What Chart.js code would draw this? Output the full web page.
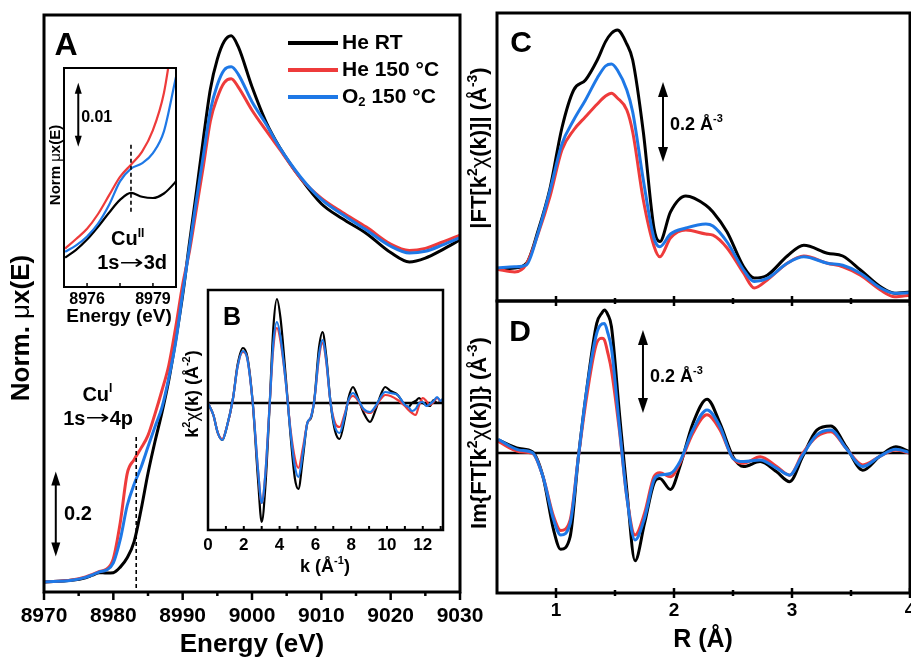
<!DOCTYPE html>
<html>
<head>
<meta charset="utf-8">
<script src="https://cdn.jsdelivr.net/npm/chart.js@4.4.1/dist/chart.umd.min.js"></script>
<style>
  body { margin: 0; width: 911px; height: 659px; overflow: hidden; background: #fff; position: relative; }
  .box { position: absolute; left: 0; top: 0; width: 930px; height: 659px; }
</style>
</head>
<body>
<div class="box"><canvas id="cA"></canvas></div>
<div class="box"><canvas id="cInset"></canvas></div>
<div class="box"><canvas id="cB"></canvas></div>
<div class="box"><canvas id="cC"></canvas></div>
<div class="box"><canvas id="cD"></canvas></div>
<script>
// series names and colours
const seriesNames = ['He RT', 'He 150 °C', 'O₂ 150 °C'];
const seriesColors = ['#000000', '#EE3B3B', '#1E78E6'];

// A: normalized XANES
const energyA = [8970, 8974, 8976, 8977, 8978, 8979, 8980, 8981, 8982, 8983, 8984, 8985, 8986, 8987, 8988, 8989, 8990, 8991, 8992, 8993, 8994, 8995, 8996, 8997, 8998, 9000, 9002, 9004, 9007, 9010, 9013, 9016.5, 9020, 9022.7, 9025, 9027.5, 9030];
const heRtA  = [0.000, 0.004, 0.010, 0.016, 0.022, 0.021, 0.022, 0.035, 0.057, 0.095, 0.170, 0.256, 0.330, 0.398, 0.475, 0.570, 0.675, 0.800, 0.920, 1.045, 1.160, 1.230, 1.272, 1.285, 1.260, 1.165, 1.083, 1.022, 0.950, 0.890, 0.855, 0.820, 0.775, 0.753, 0.762, 0.782, 0.805];
const he150A = [0.000, 0.005, 0.012, 0.018, 0.025, 0.030, 0.055, 0.140, 0.255, 0.288, 0.315, 0.345, 0.395, 0.450, 0.510, 0.600, 0.700, 0.780, 0.880, 0.980, 1.085, 1.140, 1.175, 1.184, 1.165, 1.110, 1.063, 1.018, 0.950, 0.903, 0.870, 0.835, 0.795, 0.780, 0.785, 0.800, 0.816];
const o2150A = [0.000, 0.004, 0.011, 0.017, 0.024, 0.028, 0.045, 0.100, 0.180, 0.230, 0.270, 0.318, 0.365, 0.410, 0.480, 0.565, 0.680, 0.790, 0.900, 1.005, 1.110, 1.170, 1.205, 1.212, 1.195, 1.130, 1.078, 1.022, 0.953, 0.900, 0.865, 0.828, 0.790, 0.774, 0.778, 0.793, 0.810];
const ticksA = [8970, 8980, 8990, 9000, 9010, 9020, 9030];
const minorA = [8975, 8985, 8995, 9005, 9015, 9025];

// A inset: pre-edge
const energyInset = [8975, 8975.5, 8976, 8976.5, 8977, 8977.5, 8978, 8978.5, 8979, 8979.5, 8980, 8980.5];
const heRtInset  = [0.0046, 0.0058, 0.0074, 0.0094, 0.0116, 0.0136, 0.0147, 0.0141, 0.0139, 0.0146, 0.0163, 0.0185];
const he150Inset = [0.0060, 0.0075, 0.0091, 0.0114, 0.0143, 0.0172, 0.0191, 0.0211, 0.0245, 0.0303, 0.0410, 0.0500];
const o2150Inset = [0.0055, 0.0065, 0.0079, 0.0099, 0.0128, 0.0165, 0.0185, 0.0193, 0.0209, 0.0243, 0.0320, 0.0400];
const ticksInset = [8976, 8979];
const minorInset = [8977.5];

// B: k-space EXAFS
const kB = [0, 0.3, 0.55, 0.8, 1.05, 1.4, 1.65, 1.95, 2.2, 2.5, 2.8, 3.0, 3.2, 3.45, 3.65, 3.85, 4.05, 4.35, 4.6, 4.85, 5.05, 5.3, 5.55, 5.75, 5.95, 6.2, 6.4, 6.6, 6.85, 7.1, 7.35, 7.65, 7.85, 8.1, 8.4, 8.7, 9.05, 9.4, 9.65, 9.9, 10.2, 10.6, 11.0, 11.2, 11.4, 11.6, 11.8, 12.0, 12.2, 12.4, 12.6, 12.8, 13.0, 13.1];
const heRtB  = [0, -0.12, -0.30, -0.37, -0.24, 0.05, 0.38, 0.55, 0.46, 0.00, -0.78, -1.19, -0.85, 0.00, 0.75, 1.04, 0.85, 0.25, -0.30, -0.75, -0.86, -0.55, -0.20, -0.15, 0.05, 0.55, 0.71, 0.48, 0.00, -0.28, -0.36, -0.15, 0.05, 0.16, 0.04, -0.10, -0.19, -0.05, 0.08, 0.16, 0.12, 0.08, -0.02, -0.04, 0.00, 0.02, 0.05, 0.00, -0.02, -0.03, 0.03, 0.00, 0.01, 0.03];
const he150B = [0, -0.12, -0.30, -0.36, -0.24, 0.05, 0.36, 0.51, 0.44, 0.00, -0.68, -1.00, -0.72, 0.00, 0.55, 0.75, 0.62, 0.20, -0.25, -0.55, -0.65, -0.45, -0.20, -0.14, 0.04, 0.45, 0.60, 0.42, 0.00, -0.20, -0.24, -0.10, 0.02, 0.07, 0.02, -0.07, -0.10, -0.03, 0.04, 0.08, 0.07, 0.03, -0.03, -0.07, -0.10, -0.12, -0.02, 0.05, 0.02, -0.02, 0.01, 0.05, 0.02, 0.03];
const o2150B = [0, -0.12, -0.30, -0.37, -0.24, 0.05, 0.36, 0.52, 0.44, 0.00, -0.68, -1.00, -0.72, 0.00, 0.60, 0.81, 0.66, 0.20, -0.27, -0.63, -0.74, -0.50, -0.20, -0.14, 0.04, 0.48, 0.63, 0.44, 0.00, -0.24, -0.30, -0.12, 0.03, 0.10, 0.03, -0.06, -0.09, -0.02, 0.06, 0.11, 0.10, 0.08, -0.02, -0.04, -0.08, -0.06, 0.00, 0.01, -0.03, -0.01, 0.02, 0.06, 0.02, 0.04];
const ticksB = [0, 2, 4, 6, 8, 10, 12];
const minorB = [1, 3, 5, 7, 9, 11, 13];

// C: |FT| magnitude
const rC = [0.5, 0.65, 0.75, 0.85, 0.95, 1.05, 1.15, 1.25, 1.35, 1.42, 1.47, 1.52, 1.6, 1.65, 1.74, 1.83, 1.88, 1.97, 2.1, 2.27, 2.33, 2.45, 2.59, 2.68, 2.79, 2.96, 3.1, 3.3, 3.43, 3.58, 3.75, 3.87, 4.0];
const heRtC  = [0.077, 0.080, 0.092, 0.175, 0.280, 0.430, 0.525, 0.550, 0.600, 0.646, 0.667, 0.675, 0.640, 0.600, 0.420, 0.180, 0.146, 0.220, 0.260, 0.237, 0.220, 0.170, 0.083, 0.055, 0.062, 0.110, 0.137, 0.117, 0.110, 0.075, 0.033, 0.017, 0.020];
const he150C = [0.077, 0.070, 0.090, 0.167, 0.260, 0.375, 0.425, 0.458, 0.490, 0.510, 0.517, 0.505, 0.475, 0.420, 0.250, 0.135, 0.108, 0.155, 0.175, 0.165, 0.162, 0.130, 0.067, 0.030, 0.050, 0.092, 0.110, 0.092, 0.083, 0.062, 0.025, 0.008, 0.012];
const o2150C = [0.080, 0.083, 0.088, 0.170, 0.275, 0.390, 0.450, 0.500, 0.555, 0.585, 0.590, 0.575, 0.525, 0.470, 0.300, 0.155, 0.133, 0.165, 0.180, 0.190, 0.185, 0.145, 0.075, 0.046, 0.054, 0.092, 0.108, 0.092, 0.087, 0.067, 0.030, 0.017, 0.018];

// D: Im(FT)
const rD = [0.51, 0.69, 0.8, 0.89, 0.98, 1.04, 1.12, 1.19, 1.26, 1.345, 1.39, 1.41, 1.44, 1.47, 1.54, 1.6, 1.67, 1.75, 1.83, 1.88, 1.97, 2.05, 2.16, 2.28, 2.39, 2.5, 2.59, 2.73, 2.87, 2.98, 3.09, 3.21, 3.33, 3.46, 3.6, 3.74, 3.88, 4.0];
const heRtD  = [0.032, 0.011, 0.003, -0.058, -0.188, -0.235, -0.204, -0.009, 0.154, 0.316, 0.342, 0.349, 0.337, 0.308, 0.089, -0.090, -0.263, -0.172, -0.074, -0.062, -0.089, -0.033, 0.072, 0.131, 0.072, -0.009, -0.033, -0.021, -0.046, -0.070, -0.009, 0.056, 0.066, 0.015, -0.042, -0.009, 0.015, 0.003];
const he150D = [0.028, 0.003, -0.001, -0.058, -0.155, -0.189, -0.163, -0.009, 0.137, 0.268, 0.280, 0.276, 0.243, 0.202, 0.048, -0.107, -0.200, -0.147, -0.058, -0.048, -0.058, -0.025, 0.048, 0.093, 0.056, -0.013, -0.025, -0.009, -0.033, -0.054, -0.001, 0.040, 0.052, 0.011, -0.029, -0.009, 0.007, -0.001];
const o2150D = [0.033, 0.007, 0.001, -0.058, -0.163, -0.200, -0.172, -0.009, 0.154, 0.292, 0.315, 0.316, 0.292, 0.255, 0.056, -0.107, -0.212, -0.159, -0.066, -0.054, -0.050, -0.021, 0.056, 0.105, 0.064, -0.013, -0.021, -0.017, -0.037, -0.054, -0.005, 0.044, 0.056, 0.011, -0.033, -0.009, 0.009, 0.001];
const ticksR = [1, 2, 3, 4];
const minorR = [1.5, 2.5, 3.5];

const FONT = '"Liberation Sans", Arial, "DejaVu Sans", sans-serif';
const W = 930, H = 659;

// text with super/subscripts: part = [text, shift (1 sup, -1 sub), weight, family, xscale]
function rich(ctx, x, y, parts, size, opt = {}) {
  ctx.save();
  ctx.translate(x, y);
  if (opt.rot) ctx.rotate(opt.rot);
  const small = Math.round(size * 0.62);
  const fontOf = p => `${p[2] || 'bold'} ${p[1] ? small : size}px ${p[3] || FONT}`;
  let w = 0;
  const ws = parts.map(p => { ctx.font = fontOf(p); const m = ctx.measureText(p[0]).width * (p[4] || 1); w += m; return m; });
  let cx = opt.align === 'left' ? 0 : -w / 2;
  ctx.fillStyle = '#000';
  ctx.textBaseline = 'middle';
  ctx.textAlign = 'left';
  parts.forEach((p, i) => {
    ctx.font = fontOf(p);
    const dy = p[1] === 1 ? -size * 0.32 : p[1] === -1 ? size * 0.28 : 0;
    ctx.save();
    ctx.translate(cx, dy);
    ctx.scale(p[4] || 1, 1);
    ctx.fillText(p[0], 0, 0);
    ctx.restore();
    cx += ws[i];
  });
  ctx.restore();
}

const ARROW = ['→', 0, 'normal', '"DejaVu Sans"', 1.45];

function vArrow(ctx, x, y1, y2, h, hw) {
  ctx.save();
  ctx.strokeStyle = '#000'; ctx.fillStyle = '#000'; ctx.lineWidth = 2;
  ctx.beginPath(); ctx.moveTo(x, y1 + h - 2); ctx.lineTo(x, y2 - h + 2); ctx.stroke();
  ctx.beginPath(); ctx.moveTo(x, y1); ctx.lineTo(x - hw, y1 + h); ctx.lineTo(x + hw, y1 + h); ctx.closePath(); ctx.fill();
  ctx.beginPath(); ctx.moveTo(x, y2); ctx.lineTo(x - hw, y2 - h); ctx.lineTo(x + hw, y2 - h); ctx.closePath(); ctx.fill();
  ctx.restore();
}

function dashed(ctx, x, y1, y2) {
  ctx.save();
  ctx.setLineDash([4, 3]); ctx.lineWidth = 1.6; ctx.strokeStyle = '#000';
  ctx.beginPath(); ctx.moveTo(x, y1); ctx.lineTo(x, y2); ctx.stroke();
  ctx.restore();
}

// annotations per panel
const extras = {
  cA(chart) {
    const { ctx, chartArea: a, scales: { x, y } } = chart;
    dashed(ctx, x.getPixelForValue(8983.3), y.getPixelForValue(0.341), a.bottom);
    vArrow(ctx, x.getPixelForValue(8971.7), y.getPixelForValue(0.26), y.getPixelForValue(0.06), 14, 4.5);
    rich(ctx, x.getPixelForValue(8972.9), y.getPixelForValue(0.16), [['0.2']], 20, { align: 'left' });
    rich(ctx, x.getPixelForValue(8977.7), y.getPixelForValue(0.44), [['Cu'], ['I', 1]], 20);
    rich(ctx, x.getPixelForValue(8977.8), y.getPixelForValue(0.383), [['1s'], ARROW, ['4p']], 20);
    rich(ctx, a.left + 22, a.top + 31, [['A']], 32);
    // legend
    const lx = a.left + 244, ly = a.top + 28;
    const legendParts = [[['He RT']], [['He 150 °C']], [['O'], ['2', -1], [' 150 °C']]];
    chart.data.datasets.forEach((ds, i) => {
      const yy = ly + i * 27;
      ctx.save();
      ctx.strokeStyle = ds.borderColor; ctx.lineWidth = 4;
      ctx.beginPath(); ctx.moveTo(lx, yy); ctx.lineTo(lx + 50, yy); ctx.stroke();
      ctx.restore();
      rich(ctx, lx + 54, yy, legendParts[i], 21, { align: 'left' });
    });
    rich(ctx, 22, 328, [['Norm. '], ['μ', 0, 'normal'], ['x(E)']], 26, { rot: -Math.PI / 2 });
    rich(ctx, 252, 645, [['Energy (eV)']], 26);
  },
  cInset(chart) {
    const { ctx, scales: { x, y } } = chart;
    dashed(ctx, x.getPixelForValue(8978), y.getPixelForValue(0.0222), y.getPixelForValue(0.0116));
    vArrow(ctx, x.getPixelForValue(8975.6), y.getPixelForValue(0.0319), y.getPixelForValue(0.0219), 11, 3.5);
    rich(ctx, x.getPixelForValue(8975.73), y.getPixelForValue(0.0265), [['0.01']], 16, { align: 'left' });
    rich(ctx, x.getPixelForValue(8977.85), y.getPixelForValue(0.0074), [['Cu'], ['II', 1]], 20);
    rich(ctx, x.getPixelForValue(8978.05), y.getPixelForValue(0.0037), [['1s'], ARROW, ['3d']], 20);
    rich(ctx, 56, 165, [['Norm '], ['μ', 0, 'normal'], ['x(E)']], 15, { rot: -Math.PI / 2 });
    rich(ctx, 119, 317, [['Energy (eV)']], 19);
  },
  cB(chart) {
    const { ctx, chartArea: a } = chart;
    rich(ctx, a.left + 24, a.top + 28, [['B']], 25);
    rich(ctx, 193, 394, [['k'], ['2', 1], ['χ', 0, 'normal'], ['(k) (Å'], ['-2', 1], [')']], 18, { rot: -Math.PI / 2 });
    rich(ctx, 325, 567, [['k (Å'], ['-1', 1], [')']], 18);
  },
  cC(chart) {
    const { ctx, chartArea: a, scales: { x, y } } = chart;
    rich(ctx, a.left + 24, a.top + 31, [['C']], 30);
    vArrow(ctx, x.getPixelForValue(1.907), y.getPixelForValue(0.545), y.getPixelForValue(0.345), 15, 5);
    rich(ctx, x.getPixelForValue(1.966), y.getPixelForValue(0.4375), [['0.2 Å'], ['-3', 1]], 18, { align: 'left' });
    rich(ctx, 480, 148, [['|FT[k'], ['2', 1], ['χ', 0, 'normal'], ['(k)]| (Å'], ['-3', 1], [')']], 22, { rot: -Math.PI / 2 });
  },
  cD(chart) {
    const { ctx, chartArea: a, scales: { x, y } } = chart;
    rich(ctx, a.left + 23, a.top + 32, [['D']], 30);
    vArrow(ctx, x.getPixelForValue(1.737), y.getPixelForValue(0.3), y.getPixelForValue(0.0976), 15, 5);
    rich(ctx, x.getPixelForValue(1.797), y.getPixelForValue(0.185), [['0.2 Å'], ['-3', 1]], 18, { align: 'left' });
    rich(ctx, 480, 433, [['Im{FT[k'], ['2', 1], ['χ', 0, 'normal'], ['(k)]} (Å'], ['-3', 1], [')']], 22, { rot: -Math.PI / 2 });
    rich(ctx, 703, 640, [['R (Å)']], 25);
  }
};

// frame, tick marks, zero line
const framePlugin = {
  id: 'frame',
  beforeDatasetsDraw(chart, args, o) {
    if (!o.zero) return;
    const { ctx, chartArea: a, scales: { y } } = chart;
    const py = y.getPixelForValue(0);
    ctx.save();
    ctx.strokeStyle = '#000'; ctx.lineWidth = o.zero;
    ctx.beginPath(); ctx.moveTo(a.left, py); ctx.lineTo(a.right, py); ctx.stroke();
    ctx.restore();
  },
  afterDatasetsDraw(chart, args, o) {
    const { ctx, chartArea: a, scales: { x } } = chart;
    ctx.save();
    ctx.strokeStyle = '#000';
    ctx.lineWidth = o.lw;
    ctx.strokeRect(a.left, a.top, a.right - a.left, a.bottom - a.top);
    (o.marks || []).forEach(t => {
      const yb = t.edge === 'top' ? a.top : a.bottom;
      const s = t.edge === 'top' ? 1 : -1;
      ctx.lineWidth = t.width || 2;
      t.values.forEach(v => {
        const px = x.getPixelForValue(v);
        let y1 = yb, y2 = yb + s * t.len;
        if (t.dir === 'out') y2 = yb - s * t.len;
        if (t.dir === 'both') { y1 = yb - s * t.len; y2 = yb + s * t.len; }
        ctx.beginPath(); ctx.moveTo(px, y1); ctx.lineTo(px, y2); ctx.stroke();
      });
    });
    ctx.restore();
    extras[chart.canvas.id](chart);
  }
};

function series(xs, ys, i, width) {
  return {
    label: seriesNames[i],
    data: xs.map((v, j) => ({ x: v, y: ys[j] })),
    borderColor: seriesColors[i],
    backgroundColor: seriesColors[i],
    borderWidth: width,
    pointRadius: 0,
    fill: false,
    cubicInterpolationMode: 'monotone',
    order: 3 - i,
    clip: 0
  };
}

function makeChart(id, box, xr, yr, tickVals, tickFont, tickPad, datasets, frame) {
  const labelled = tickVals.length > 0;
  const xScale = {
    type: 'linear', min: xr[0], max: xr[1], display: labelled,
    grid: { display: false, drawTicks: false, tickLength: 0 },
    border: { display: false },
    ticks: {
      autoSkip: false, maxRotation: 0, padding: tickPad, color: '#000',
      font: { family: FONT, size: tickFont, weight: 'bold' },
      callback: v => String(v)
    }
  };
  if (labelled) {
    xScale.afterBuildTicks = s => { s.ticks = tickVals.map(v => ({ value: v })); };
    xScale.afterFit = s => { s.height = H - box.bottom; };
  }
  return new Chart(document.getElementById(id), {
    type: 'line',
    data: { datasets },
    options: {
      responsive: true,
      maintainAspectRatio: false,
      animation: false,
      events: [],
      layout: { padding: { left: box.left, top: box.top, right: W - box.right, bottom: labelled ? 0 : H - box.bottom } },
      scales: {
        x: xScale,
        y: { type: 'linear', min: yr[0], max: yr[1], display: false }
      },
      plugins: { legend: { display: false }, tooltip: { enabled: false }, frame }
    },
    plugins: [framePlugin]
  });
}

makeChart('cA', { left: 44, top: 15, right: 460, bottom: 592 }, [8970, 9030], [-0.0235, 1.334], ticksA, 21, 12,
  [series(energyA, heRtA, 0, 3), series(energyA, he150A, 1, 3), series(energyA, o2150A, 2, 3)],
  { lw: 3, marks: [{ edge: 'bottom', dir: 'out', len: 8, values: ticksA, width: 2.5 }, { edge: 'bottom', dir: 'out', len: 4, values: minorA, width: 2.5 }] });

makeChart('cInset', { left: 64, top: 68, right: 176, bottom: 287 }, [8974.95, 8980.05], [0, 0.0342], ticksInset, 16, 3,
  [series(energyInset, heRtInset, 0, 2.2), series(energyInset, he150Inset, 1, 2.2), series(energyInset, o2150Inset, 2, 2.2)],
  { lw: 2, marks: [{ edge: 'bottom', dir: 'in', len: 4, values: ticksInset.concat(minorInset), width: 1.5 }] });

makeChart('cB', { left: 208, top: 290, right: 443, bottom: 530 }, [0, 13.13], [-1.27, 1.13], ticksB, 17, 5,
  [series(kB, heRtB, 0, 2.2), series(kB, he150B, 1, 2.2), series(kB, o2150B, 2, 2.2)],
  { lw: 2.5, zero: 2.5, marks: [{ edge: 'bottom', dir: 'in', len: 4, values: ticksB.concat(minorB), width: 2 }] });

makeChart('cC', { left: 497, top: 13, right: 910, bottom: 301 }, [0.5, 4.0], [-0.0025, 0.7175], [], 19, 6,
  [series(rC, heRtC, 0, 3), series(rC, he150C, 1, 3), series(rC, o2150C, 2, 3)],
  { lw: 3, marks: [{ edge: 'bottom', dir: 'in', len: 5, values: ticksR, width: 2.5 }, { edge: 'bottom', dir: 'in', len: 3, values: minorR, width: 2.5 }] });

makeChart('cD', { left: 497, top: 301, right: 910, bottom: 593 }, [0.5, 4.0], [-0.3415, 0.3707], ticksR, 19, 6,
  [series(rD, heRtD, 0, 3), series(rD, he150D, 1, 3), series(rD, o2150D, 2, 3)],
  { lw: 3, zero: 2.5, marks: [
    { edge: 'top', dir: 'in', len: 5, values: ticksR, width: 2.5 }, { edge: 'top', dir: 'in', len: 3, values: minorR, width: 2.5 },
    { edge: 'bottom', dir: 'both', len: 5, values: ticksR, width: 2.5 }, { edge: 'bottom', dir: 'both', len: 3, values: minorR, width: 2.5 }] });
</script>
</body>
</html>
